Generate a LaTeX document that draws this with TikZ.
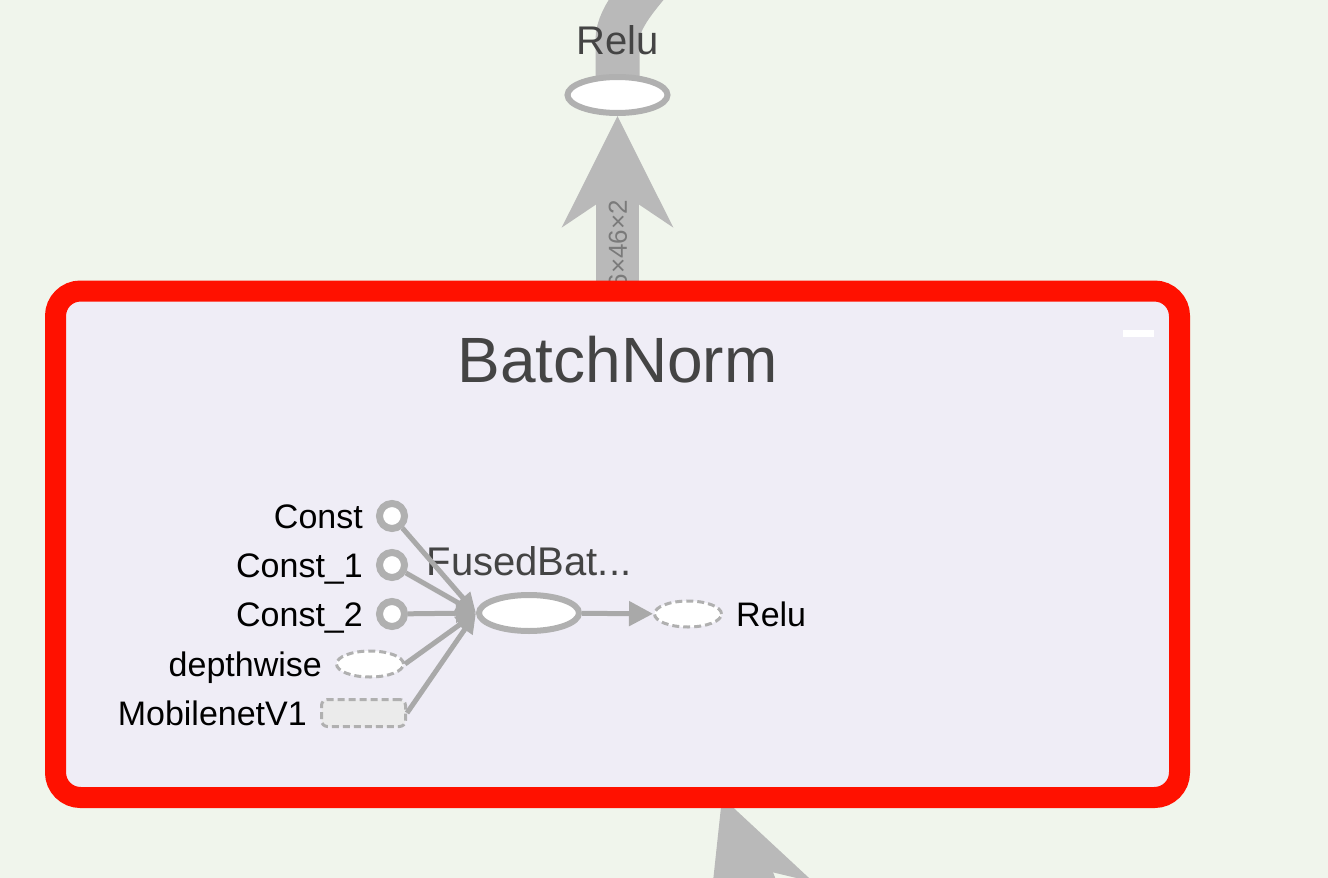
\documentclass[tikz,border=0pt]{standalone}
\usepackage{fontspec}
\setmainfont{Liberation Sans}
\usetikzlibrary{arrows.meta,positioning,shapes.geometric,backgrounds}
\definecolor{canvas}{HTML}{F0F5EC}
\definecolor{grpbg}{HTML}{EFEDF6}
\definecolor{hilite}{HTML}{FF1100}
\definecolor{fatc}{HTML}{B9B9B9}
\definecolor{nodec}{HTML}{B0B0B0}
\definecolor{edgec}{HTML}{A9A9A9}
\definecolor{titlec}{HTML}{444444}
\definecolor{dimc}{HTML}{7A7A7A}
\tikzset{
  grp/.style={rectangle,draw=hilite,line width=21pt,rounded corners=25pt,fill=grpbg,
    inner sep=0pt,minimum width=1124pt,minimum height=506.5pt},
  grptitle/.style={font=\fontsize{64}{64}\selectfont,text=titlec,inner sep=0pt,
    text height=46pt,text depth=0pt},
  opnode/.style={ellipse,draw=nodec,line width=6pt,fill=white,inner sep=0pt,
    minimum width=100pt,minimum height=36pt},
  cnode/.style={circle,draw=nodec,line width=7pt,fill=white,inner sep=0pt,minimum size=25pt},
  dashref/.style={draw=nodec,line width=3pt,dash pattern=on 7pt off 4pt,inner sep=0pt},
  dref/.style={dashref,ellipse,fill=white,minimum width=67pt,minimum height=26pt},
  mref/.style={dashref,rectangle,rounded corners=6pt,fill=black!8,minimum width=84pt,minimum height=27pt},
  inlbl/.style={font=\fontsize{34}{34}\selectfont,inner sep=0pt,text height=24pt,text depth=0pt},
  oplbl/.style={font=\fontsize{40}{40}\selectfont,text=titlec,inner sep=0pt,
    text height=28.6pt,text depth=0pt},
  dimlbl/.style={font=\fontsize{26}{26}\selectfont,text=dimc,inner sep=0pt},
  wire/.style={draw=edgec,line width=5pt,-{Triangle[length=20pt,width=18pt]}},
  wireout/.style={wire,-{Triangle[length=24pt,width=24pt]}},
  fatline/.style={draw=fatc,line width=44pt},
  fatedge/.style={draw=fatc,line width=43pt,-{Stealth[length=110pt,width=109pt,inset=36pt]}},
}
\begin{document}
\begin{tikzpicture}[x=1pt,y=-1pt]
  \useasboundingbox (0,0) rectangle (1328,878);
  \node[grp](bn) at (617.5,544.25){};
  \node[grptitle,below=56pt of bn.north](bnt){BatchNorm};
  \node[fill=white,inner sep=0pt,minimum width=31pt,minimum height=7pt](fold) at (1138.5,333){};
  % outside the group
  \node[opnode](t) at (617.5,95){};
  \node[oplbl,above=19pt of t](tl){Relu};
  \coordinate (dl) at (618,244);
  \coordinate (up0) at (617.5,40);
  \coordinate (up) at (668,-40);
  \coordinate (lo) at (827,1078);
  \coordinate (hit) at (722,797);
  \begin{scope}[on background layer]
    \clip (0,0) rectangle (1328,878);
    \fill[canvas] (0,0) rectangle (1328,878);
    \draw[fatline] (t.center) -- (up0) .. controls +(0,-25) and +(-22,28) .. (up);
    \draw[fatedge] (bn) -- (t);
    \draw[fatedge] (lo) -- (hit);
    \node[dimlbl,rotate=90](dlt) at (dl) {6×46×2};
  \end{scope}
  % inside the group
  \node[opnode](f) at (529,613){};
  \node[oplbl,above=16pt of f](fl){FusedBat...};
  \node[cnode](c0) at (392,516){};
  \node[cnode](c1) at (392,565){};
  \node[cnode](c2) at (392,614){};
  \node[dref](d) at (370,664){};
  \node[mref](m) at (363.5,713){};
  \node[dref](r) at (688,614){};
  \node[inlbl,left=13pt of c0]{Const};
  \node[inlbl,left=13pt of c1]{Const\_1};
  \node[inlbl,left=13pt of c2]{Const\_2};
  \node[inlbl,left=13pt of d]{depthwise};
  \node[inlbl,left=13pt of m]{MobilenetV1};
  \node[inlbl,right=13pt of r]{Relu};
  \foreach \s in {c0,c1,c2} \draw[wire](\s)--(f.west);
  \foreach \s in {d,m} \draw[wire](\s.east)--(f.west);
  \draw[wireout](f)--(r);
\end{tikzpicture}
\end{document}
